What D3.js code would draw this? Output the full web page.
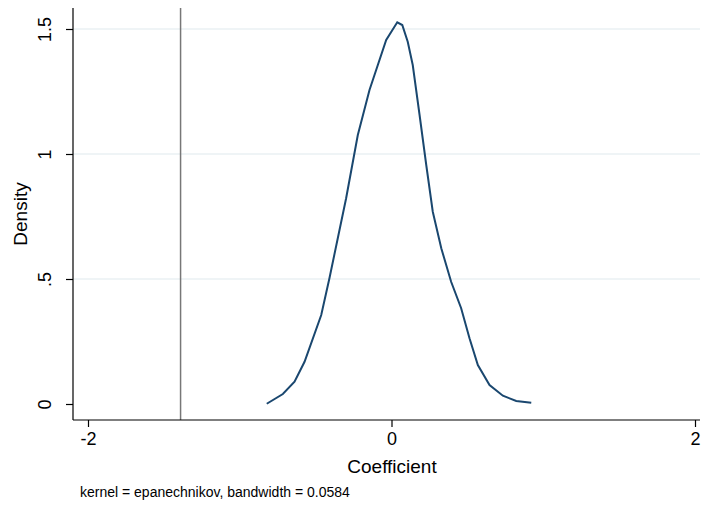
<!DOCTYPE html>
<html><head><meta charset="utf-8">
<script src="https://cdn.jsdelivr.net/npm/d3@7"></script>
<style>body{margin:0;background:#fff}text{font-family:"Liberation Sans",Arial,sans-serif}</style>
</head><body><svg id="c" width="701" height="508"></svg>
<script>
const xs = [-0.822,-0.716,-0.639,-0.573,-0.463,-0.409,-0.354,-0.299,-0.222,-0.145,-0.035,0.038,0.071,0.107,0.140,0.185,0.229,0.272,0.328,0.393,0.459,0.514,0.569,0.646,0.734,0.822,0.921];
const ys = [0.001,0.040,0.089,0.169,0.356,0.503,0.663,0.823,1.076,1.256,1.456,1.527,1.516,1.449,1.356,1.156,0.956,0.769,0.623,0.489,0.383,0.263,0.156,0.076,0.033,0.012,0.005];
const xTicks = [-2,0,2];
const xLabels = ["-2","0","2"];
const yTicks = [0,0.5,1,1.5];
const yLabels = ["0",".5","1","1.5"];
const refLine = -1.39;

const svg = d3.select("#c");
const x = d3.scaleLinear().domain([-2,2]).range([88,695]);
const y = d3.scaleLinear().domain([0,1.5]).range([404,29]);
const pLeft = 73, pBottom = 420, pTop = 8, pRight = 700;

svg.selectAll(".g").data(yTicks.slice(1)).join("line")
  .attr("x1",pLeft).attr("x2",pRight).attr("y1",d=>y(d)).attr("y2",d=>y(d))
  .attr("stroke","#eaf0f3").attr("stroke-width",1.3);

svg.append("line").attr("x1",x(refLine)).attr("x2",x(refLine)).attr("y1",pTop).attr("y2",pBottom)
  .attr("stroke","#777").attr("stroke-width",1.5);

svg.append("path").datum(xs.map((v,i)=>[v,ys[i]]))
  .attr("d",d3.line().x(d=>x(d[0])).y(d=>y(d[1])))
  .attr("fill","none").attr("stroke","#1a476f").attr("stroke-width",2);

const xa = svg.append("g").attr("transform",`translate(0,${pBottom})`)
  .call(d3.axisBottom(x).tickValues(xTicks).tickSize(7).tickFormat((d,i)=>xLabels[i]));
xa.select(".domain").attr("d",`M${pLeft},0H${pRight}`);
const ya = svg.append("g").attr("transform",`translate(${pLeft},0)`)
  .call(d3.axisLeft(y).tickValues(yTicks).tickSize(7).tickFormat((d,i)=>yLabels[i]));
ya.select(".domain").attr("d",`M0,${pTop}V${pBottom}`);
svg.selectAll(".tick text").attr("font-size",18).attr("font-family","Liberation Sans, Arial, sans-serif").attr("fill","#000");
xa.selectAll(".tick text").attr("dy","0.85em");
ya.selectAll(".tick text").attr("transform","rotate(-90) translate(0,-22)")
  .attr("x",0).attr("y",0).attr("dy",0).attr("text-anchor","middle");
svg.selectAll(".domain,.tick line").attr("stroke","#000").attr("stroke-width",1.2);

svg.append("text").attr("x",392).attr("y",473).attr("text-anchor","middle").attr("font-size",19).text("Coefficient");
svg.append("text").attr("transform","translate(27,214) rotate(-90)").attr("text-anchor","middle").attr("font-size",19).text("Density");
svg.append("text").attr("x",80).attr("y",497).attr("font-size",14).text("kernel = epanechnikov, bandwidth = 0.0584");
</script></body></html>
